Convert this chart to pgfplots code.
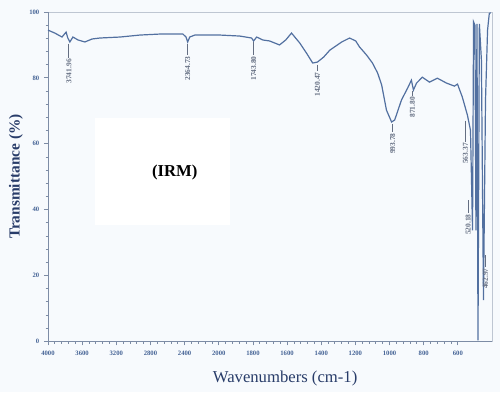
\documentclass[border=0pt]{standalone}
\usepackage{fontspec}
\setmainfont{Liberation Serif}
\usepackage{pgfplots}
\pgfplotsset{compat=1.18}
\definecolor{curve}{RGB}{82,112,160}
\definecolor{axisc}{RGB}{125,140,165}
\definecolor{framec}{RGB}{190,198,210}
\definecolor{tickc}{RGB}{70,100,150}
\definecolor{labc}{RGB}{40,60,105}
\definecolor{annc}{RGB}{100,110,130}
\definecolor{bg}{RGB}{247,250,253}
\newcommand{\pk}[4]{\draw[annc,line width=0.5pt] (axis cs:#1,#2) -- (axis cs:#1,#3) node[rotate=90,anchor=east,inner sep=0.6pt,font=\fontsize{5.6}{6}\selectfont\bfseries,text=annc] {#4};}
\begin{document}
\begin{tikzpicture}
\fill[bg] (-36pt,-38.25pt) rectangle (339pt,256pt);
\begin{axis}[
  scale only axis, width=333pt, height=247pt,
  xmin=0, xmax=13, ymin=0, ymax=100,
  axis line style={framec},
  xtick={0,...,12},
  xticklabels={4000,3600,3200,2800,2400,2000,1800,1600,1400,1200,1000,800,600},
  ytick={0,20,...,100},
  minor x tick num=4, minor y tick num=4,
  tick pos=left, tick align=outside,
  major tick length=3pt, minor tick length=1.8pt,
  tick style={axisc, line width=0.6pt},
  x tick label style={font=\fontsize{5}{6}\selectfont\bfseries, text=tickc, yshift=-1pt},
  y tick label style={font=\fontsize{5}{6}\selectfont\bfseries, text=tickc},
  /pgf/number format/assume math mode=true,
  xlabel={Wavenumbers (cm-1)},
  ylabel={\textbf{Transmittance (\%)}},
  xlabel style={at={(axis description cs:0.534,-0.112)}, anchor=center, font=\fontsize{12.5}{14}\selectfont, text=labc},
  ylabel style={at={(axis description cs:-0.072,0.5)}, anchor=center, font=\fontsize{11.5}{13}\selectfont, text=labc},
  clip=true,
]
\fill[white] (axis cs:1.37,35.3) rectangle (axis cs:5.32,67.8);
\node[font=\fontsize{12.5}{14}\selectfont\bfseries] at (axis cs:3.71,51.4) {(IRM)};
\draw[axisc, line width=0.7pt] (axis cs:0,0) -- (axis cs:13,0);
\draw[axisc, line width=0.7pt] (axis cs:0,0) -- (axis cs:0,100);
\addplot[curve, line width=0.9pt] coordinates {
(0.00,94.5) (0.20,93.6) (0.41,92.4) (0.53,93.9) (0.58,92.1) (0.64,90.9)
(0.73,92.4) (0.88,91.5) (1.08,90.9) (1.29,91.8) (1.52,92.1) (2.11,92.4)
(2.69,93.0) (3.27,93.3) (3.95,93.3) (4.04,92.4) (4.09,90.9) (4.15,92.4)
(4.30,93.0) (5.03,93.0) (5.61,92.7) (5.96,92.1) (6.02,91.2) (6.11,92.4)
(6.29,91.5) (6.49,91.2) (6.78,90.0) (6.96,91.5) (7.13,93.6) (7.37,90.6)
(7.57,87.5) (7.75,84.5) (7.89,84.8) (8.07,86.3) (8.25,88.4) (8.60,90.9)
(8.83,92.1) (9.01,91.2) (9.12,89.4) (9.33,86.9) (9.50,84.5) (9.65,81.5)
(9.77,77.8) (9.91,70.2) (10.06,66.6) (10.15,67.2) (10.23,69.6) (10.35,73.3)
(10.53,76.9) (10.64,79.3) (10.70,76.3) (10.79,78.4) (10.96,80.2) (11.17,78.7)
(11.40,79.9) (11.67,78.4) (11.90,77.5) (11.99,78.1) (12.13,74.2) (12.28,68.7)
(12.37,64.1) (12.43,33.7) (12.46,97.0) (12.50,96.0) (12.53,33.7) (12.56,96.4)
(12.59,0.3) (12.63,96.4) (12.69,85.4) (12.75,12.5) (12.81,73.3) (12.87,94.5)
(12.92,99.5) (12.96,99.8)
};
\pk{0.61}{90.4}{86.0}{3741.96}
\pk{4.09}{90.4}{86.9}{2364.73}
\pk{6.02}{90.8}{86.9}{1743.80}
\pk{7.89}{84.0}{82.0}{1420.47}
\pk{10.09}{66.0}{63.5}{993.78}
\pk{10.67}{76.0}{74.5}{871.80}
\pk{12.22}{67.0}{60.5}{563.37}
\pk{12.30}{42.9}{38.9}{520.18}
\pk{12.81}{26.1}{22.5}{462.97}
\end{axis}
\path[use as bounding box] (-36pt,-38.25pt) rectangle (339pt,256pt);
\end{tikzpicture}
\end{document}
